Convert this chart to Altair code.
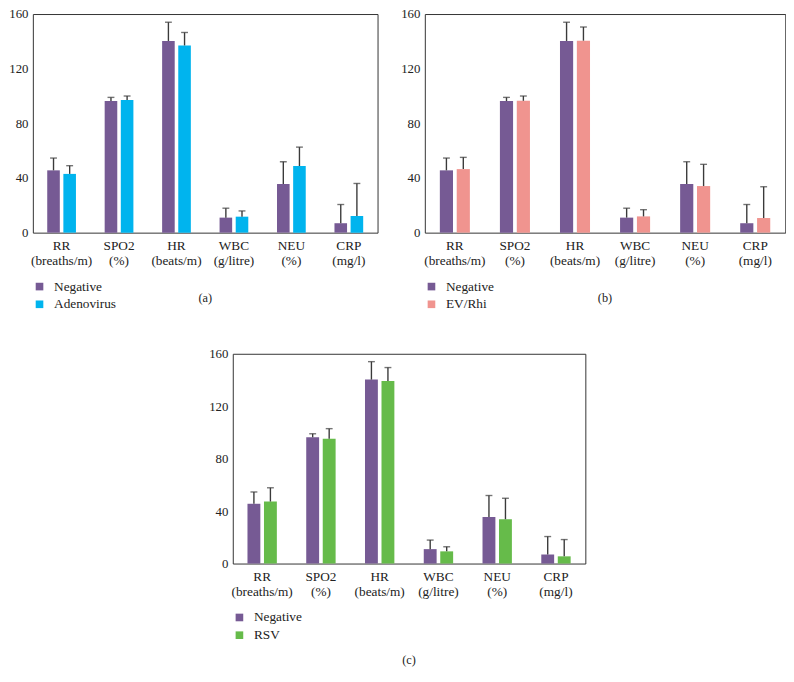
import altair as alt
import pandas as pd

categories = ["RR|(breaths/m)", "SPO2|(%)", "HR|(beats/m)", "WBC|(g/litre)", "NEU|(%)", "CRP|(mg/l)"]

neg_mean = [45.6, 96.3, 140.3, 11.0, 35.6, 6.9]
neg_top = [54.6, 99.0, 154.0, 17.9, 51.9, 20.6]

adeno_mean = [43.0, 97.0, 137.0, 11.7, 48.8, 12.1]
adeno_top = [49.0, 100.0, 146.5, 15.9, 62.6, 36.0]

ev_mean = [46.5, 96.5, 140.5, 11.9, 34.1, 10.7]
ev_top = [55.1, 100.0, 150.5, 16.8, 50.0, 33.6]

rsv_mean = [47.3, 95.1, 139.2, 9.3, 33.8, 5.5]
rsv_top = [57.8, 102.9, 149.5, 12.8, 49.8, 18.3]

NEG_COLOR = "#765a94"
FONT = "Liberation Serif"
TXT = "#222222"


def make_df(name, mean, top):
    rows = []
    for i, c in enumerate(categories):
        rows.append({"cat": c, "group": "Negative", "value": neg_mean[i], "top": neg_top[i]})
    for i, c in enumerate(categories):
        rows.append({"cat": c, "group": name, "value": mean[i], "top": top[i]})
    return pd.DataFrame(rows)


def panel(name, mean, top, color, label, w, h, title_offset):
    df = make_df(name, mean, top)
    xscale = alt.Scale(paddingInner=0.5, paddingOuter=0.25)
    xenc = alt.X("cat:N", sort=categories, scale=xscale,
                 axis=alt.Axis(title=None, labelAngle=0, ticks=False, domain=False,
                               labelExpr="split(datum.label, '|')",
                               labelFont=FONT, labelFontSize=13.5, labelColor=TXT,
                               labelPadding=6, labelLineHeight=15, labelBaseline="top"))
    xoff = alt.XOffset("group:N", sort=["Negative", name],
                       scale=alt.Scale(paddingInner=0.22, paddingOuter=0))
    yscale = alt.Scale(domain=[0, 160])
    bars = alt.Chart(df).mark_bar().encode(
        x=xenc,
        xOffset=xoff,
        y=alt.Y("value:Q", scale=yscale,
                axis=alt.Axis(title=None, values=[0, 40, 80, 120, 160], grid=False, ticks=False,
                              domain=False, labelFont=FONT, labelFontSize=13, labelColor=TXT,
                              labelPadding=5)),
        color=alt.Color("group:N", sort=["Negative", name],
                        scale=alt.Scale(domain=["Negative", name], range=[NEG_COLOR, color]),
                        legend=alt.Legend(title=None, orient="none", legendX=0, legendY=h + 48,
                                          symbolType="square", symbolSize=60, symbolStrokeWidth=0,
                                          labelFont=FONT, labelFontSize=13.5, labelColor=TXT,
                                          rowPadding=3, labelOffset=8)),
    )
    rules = alt.Chart(df).mark_rule(color="#3a3a3a", strokeWidth=1.4).encode(
        x=alt.X("cat:N", sort=categories, scale=xscale),
        xOffset=xoff,
        y=alt.Y("value:Q", scale=yscale),
        y2="top:Q",
    )
    caps = alt.Chart(df).mark_tick(color="#3a3a3a", thickness=1.4, size=7).encode(
        x=alt.X("cat:N", sort=categories, scale=xscale),
        xOffset=xoff,
        y=alt.Y("top:Q", scale=yscale),
    )
    return alt.layer(bars, rules, caps).properties(
        width=w, height=h,
        title=alt.TitleParams(label, orient="bottom", anchor="middle", font=FONT, fontSize=12.5,
                              fontWeight="normal", color=TXT, offset=title_offset),
    )


pa = panel("Adenovirus", adeno_mean, adeno_top, "#00b4ee", "(a)", 350, 222, -20)
pb = panel("EV/Rhi", ev_mean, ev_top, "#f0948f", "(b)", 366, 222, -20)
pc = panel("RSV", rsv_mean, rsv_top, "#66bb4a", "(c)", 358, 213, 12)

top_row = alt.hconcat(pa, pb, spacing=22).resolve_scale(
    color="independent", xOffset="independent", x="independent", y="independent"
).resolve_legend(color="independent")

chart = alt.vconcat(top_row, pc, spacing=35, center=True).resolve_scale(
    color="independent", xOffset="independent", x="independent", y="independent"
).resolve_legend(color="independent").properties(
    padding={"left": 0, "top": -6, "right": 0, "bottom": 0}, background="white"
).configure_view(
    stroke="#333333", strokeWidth=1
)

chart.save("out.html", embed_options={"renderer": "svg", "actions": False})
